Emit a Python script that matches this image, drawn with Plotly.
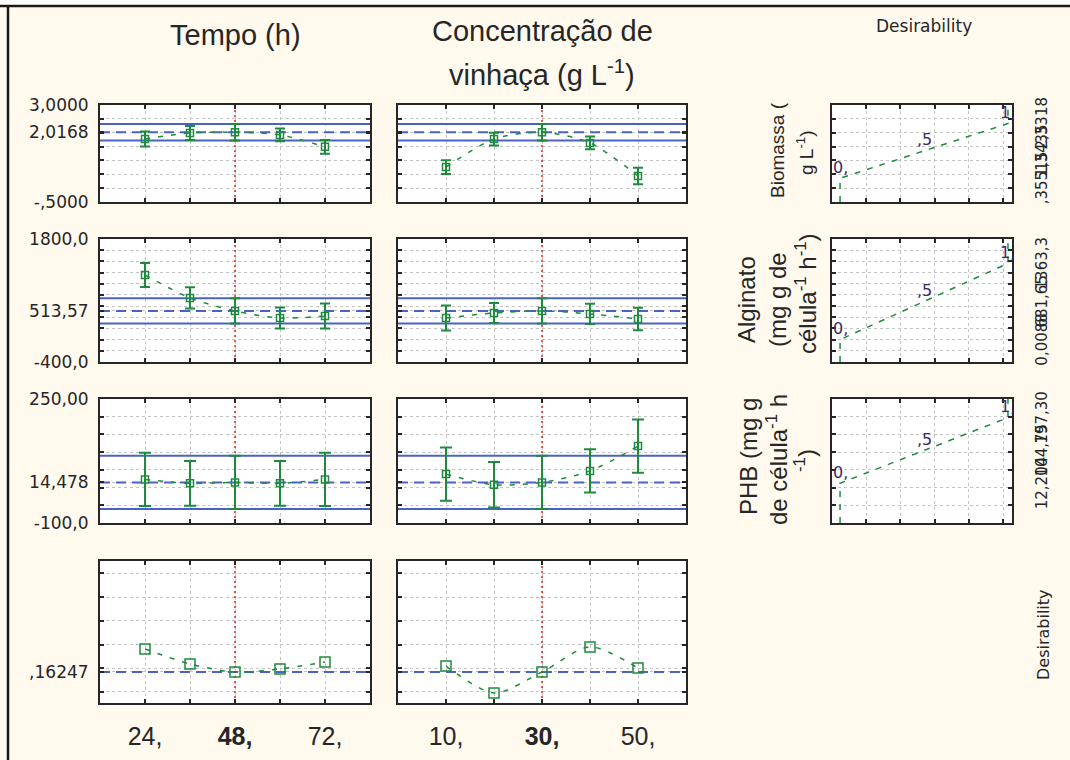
import numpy as np
import plotly.graph_objects as go

# ---------------- factor levels ----------------
tempo_levels = [24, 36, 48, 60, 72]
vinhaca_levels = [10, 20, 30, 40, 50]
tempo_atual = 48
vinhaca_atual = 30
tempo_ticktext = ["24,", "", "<b>48,</b>", "", "72,"]
vinhaca_ticktext = ["10,", "", "<b>30,</b>", "", "50,"]

# ---------------- responses ----------------
# Biomassa (g L-1)
biomassa_tempo = [1.77, 1.99, 2.0168, 1.92, 1.49]
biomassa_tempo_ic = [0.27, 0.25, 0.30, 0.23, 0.25]
biomassa_vinhaca = [0.76, 1.77, 2.0168, 1.63, 0.44]
biomassa_vinhaca_ic = [0.25, 0.23, 0.30, 0.23, 0.30]
biomassa_pred = 2.0168
biomassa_ic = 0.30

# Alginato (mg g de célula-1 h-1)
alginato_tempo = [1156, 745, 513.57, 387, 422]
alginato_tempo_ic = [215, 190, 225, 190, 225]
alginato_vinhaca = [387, 477, 513.57, 460, 370]
alginato_vinhaca_ic = [225, 180, 225, 180, 200]
alginato_pred = 513.57
alginato_ic = 225

# PHB (mg g de célula-1 h-1)
phb_tempo = [23, 12, 14.478, 12, 23]
phb_tempo_ic = [75, 63, 75, 63, 75]
phb_vinhaca = [38, 8, 14.478, 47, 117]
phb_vinhaca_ic = [75, 64, 75, 61, 75]
phb_pred = 14.478
phb_ic = 75

# overall desirability
desej_tempo = [0.1819, 0.1692, 0.16247, 0.1650, 0.1709]
desej_vinhaca = [0.1675, 0.1448, 0.16247, 0.1836, 0.1658]
desej_global = 0.16247

# desirability functions: response limits (low, high) and their labels
biomassa_limites = [0.35515, 2.3318]
alginato_limites = [0.0088, 1363.3]
phb_limites = [12.204, 197.30]
biomassa_limites_txt = [",35515", "1,3435", "2,3318"]
alginato_limites_txt = ["0,0088", "681,65", "1363,3"]
phb_limites_txt = ["12,204", "104,75", "197,30"]
desej_niveis = [0, 0.5, 1]
desej_niveis_txt = ["0,", ",5", "1,"]

# axis scales and labels
biomassa_range = [-0.5, 3.0]
alginato_range = [-400, 1800]
phb_range = [-100, 250]
desej_range = [0.1363, 0.2561]
biomassa_tickvals = [-0.5, 2.0168, 3.0]
biomassa_ticktext = ["-,5000", "2,0168", "3,0000"]
alginato_tickvals = [-400, 513.57, 1800]
alginato_ticktext = ["-400,0", "513,57", "1800,0"]
phb_tickvals = [-100, 14.478, 250]
phb_ticktext = ["-100,0", "14,478", "250,00"]
desej_tickvals = [0.16247]
desej_ticktext = [",16247"]

# ---------------- layout geometry ----------------
W, H = 1070, 760
col_px = {1: (100, 370), 2: (398, 686), 3: (832, 1012)}
row_px = {1: (105, 202), 2: (239, 362), 3: (399, 523), 4: (561, 703)}

GREEN = "#1e8a3e"
BLUE = "#4a63c3"
RED = "#e02424"
INK = "#262626"
CREAM = "#fff9ee"


def dom_x(c):
    a, b = col_px[c]
    return [a / W, b / W]


def dom_y(r):
    a, b = row_px[r]
    return [1 - b / H, 1 - a / H]


eixo_base = dict(showline=True, linecolor=INK, linewidth=2, mirror="ticks",
                 ticks="inside", ticklen=4, tickwidth=1.5, tickcolor=INK,
                 showgrid=True, gridcolor="#c4c4c4", gridwidth=1, griddash="dot",
                 zeroline=False, fixedrange=True, automargin=False)

respostas = [
    dict(rng=biomassa_range, grid=np.arange(0, 2.6, 0.5), tv=biomassa_tickvals, tt=biomassa_ticktext,
         series=[(biomassa_tempo, biomassa_tempo_ic), (biomassa_vinhaca, biomassa_vinhaca_ic)],
         pred=biomassa_pred, ic=biomassa_ic, lim=biomassa_limites, lim_txt=biomassa_limites_txt, cap=5),
    dict(rng=alginato_range, grid=np.arange(-200, 1601, 200), tv=alginato_tickvals, tt=alginato_ticktext,
         series=[(alginato_tempo, alginato_tempo_ic), (alginato_vinhaca, alginato_vinhaca_ic)],
         pred=alginato_pred, ic=alginato_ic, lim=alginato_limites, lim_txt=alginato_limites_txt, cap=5),
    dict(rng=phb_range, grid=np.arange(-50, 201, 50), tv=phb_tickvals, tt=phb_ticktext,
         series=[(phb_tempo, phb_tempo_ic), (phb_vinhaca, phb_vinhaca_ic)],
         pred=phb_pred, ic=phb_ic, lim=phb_limites, lim_txt=phb_limites_txt, cap=6),
]

fatores = [
    dict(levels=tempo_levels, rng=[12, 84], atual=tempo_atual, tt=tempo_ticktext),
    dict(levels=vinhaca_levels, rng=[0, 60], atual=vinhaca_atual, tt=vinhaca_ticktext),
]

fig = go.Figure()
layout = {}
annotations = []
contador = [0]


def novo_painel(r, c, xcfg, ycfg):
    contador[0] += 1
    n = contador[0]
    sx = "" if n == 1 else str(n)
    xa = dict(eixo_base, domain=dom_x(c), anchor="y" + sx, **xcfg)
    ya = dict(eixo_base, domain=dom_y(r), anchor="x" + sx, **ycfg)
    layout["xaxis" + sx] = xa
    layout["yaxis" + sx] = ya
    return "x" + sx, "y" + sx


def eixo_y(grid, tv, tt, labels):
    vals = list(grid) + list(tv)
    txt = [""] * len(grid) + (list(tt) if labels else [""] * len(tv))
    return dict(tickvals=vals, ticktext=txt, showticklabels=labels,
                tickfont=dict(family="DejaVu Sans", size=17, color=INK),
                ticklabelstandoff=6)


def eixo_x(fat, labels):
    return dict(range=fat["rng"], tickvals=fat["levels"],
                ticktext=fat["tt"] if labels else [""] * len(fat["levels"]),
                showticklabels=labels,
                tickfont=dict(family="Liberation Sans", size=25, color=INK),
                ticklabelstandoff=10)


def linha(xr, yr, xs, ys, dash, color, width):
    fig.add_trace(go.Scatter(x=xs, y=ys, xaxis=xr, yaxis=yr, mode="lines",
                             line=dict(color=color, width=width, dash=dash),
                             showlegend=False, hoverinfo="skip"))


# ---------------- response rows ----------------
for r, resp in enumerate(respostas, start=1):
    for c, fat in enumerate(fatores, start=1):
        ycfg = dict(range=resp["rng"], **eixo_y(resp["grid"], resp["tv"], resp["tt"], c == 1))
        xr, yr = novo_painel(r, c, eixo_x(fat, False), ycfg)
        vals, ic = resp["series"][c - 1]
        # confidence band around the predicted value, current factor setting
        for yv in (resp["pred"] + resp["ic"], resp["pred"] - resp["ic"]):
            linha(xr, yr, fat["rng"], [yv, yv], "solid", BLUE, 2)
        linha(xr, yr, fat["rng"], [resp["pred"], resp["pred"]], "10px,6px", BLUE, 2)
        linha(xr, yr, [fat["atual"], fat["atual"]], resp["rng"], "2px,3px", RED, 1.5)
        fig.add_trace(go.Scatter(
            x=fat["levels"], y=vals, xaxis=xr, yaxis=yr, mode="lines+markers",
            line=dict(color=GREEN, width=1.5, dash="5px,8px", shape="spline", smoothing=0.8),
            marker=dict(symbol="square-open", size=7, color=GREEN, line=dict(width=1.5, color=GREEN)),
            error_y=dict(type="data", array=ic, visible=True, color=GREEN, thickness=2,
                         width=resp["cap"]),
            showlegend=False, hoverinfo="skip"))

    # desirability function panel
    lo, hi = resp["lim"]
    meio = (lo + hi) / 2
    xcfg = dict(range=[-0.048, 1.024], tickvals=list(np.arange(0.155, 1.0, 0.204)),
                showticklabels=False)
    ycfg = dict(range=resp["rng"], tickvals=list(resp["grid"]), showticklabels=False)
    xr, yr = novo_painel(r, 3, xcfg, ycfg)
    linha(xr, yr, [desej_niveis[0], desej_niveis[0], desej_niveis[2], desej_niveis[2]],
          [resp["rng"][0], lo, hi, resp["rng"][1]], "6px,7px", GREEN, 1.5)
    for d, txt, yv in zip(desej_niveis, desej_niveis_txt, [lo, meio, hi]):
        annotations.append(dict(x=d, y=yv, xref=xr, yref=yr, text=txt, showarrow=False,
                                yshift=11, font=dict(family="DejaVu Sans", size=16, color="#3a2a66")))
    for txt, yv in zip(resp["lim_txt"], [lo, meio, hi]):
        annotations.append(dict(x=1042 / W, y=yv, xref="paper", yref=yr, text=txt, showarrow=False,
                                textangle=-90, xanchor="center", yanchor="middle",
                                font=dict(family="DejaVu Sans", size=15, color=INK)))

# ---------------- overall desirability row ----------------
for c, fat in enumerate(fatores, start=1):
    grid = np.arange(0.14559, desej_range[1], 0.02)
    ycfg = dict(range=desej_range, **eixo_y(grid, desej_tickvals, desej_ticktext, c == 1))
    xr, yr = novo_painel(4, c, eixo_x(fat, True), ycfg)
    linha(xr, yr, fat["rng"], [desej_global, desej_global], "10px,6px", BLUE, 2)
    linha(xr, yr, [fat["atual"], fat["atual"]], desej_range, "2px,3px", RED, 1.5)
    fig.add_trace(go.Scatter(
        x=fat["levels"], y=desej_tempo if c == 1 else desej_vinhaca, xaxis=xr, yaxis=yr,
        mode="lines+markers",
        line=dict(color=GREEN, width=1.5, dash="5px,8px", shape="spline", smoothing=0.8),
        marker=dict(symbol="square-open", size=10, color=GREEN, line=dict(width=1.5, color=GREEN)),
        showlegend=False, hoverinfo="skip"))

# ---------------- titles and labels ----------------
def texto(x, y, s, size, family="Liberation Sans", angle=0, color=INK):
    annotations.append(dict(x=x / W, y=1 - y / H, xref="paper", yref="paper", text=s,
                            showarrow=False, textangle=angle, xanchor="center", yanchor="middle",
                            font=dict(family=family, size=size, color=color)))


texto(235, 35, "Tempo (h)", 29)
texto(542, 31, "Concentração de", 29)
texto(542, 73, "vinhaça (g L<sup>-1</sup>)", 29)
texto(924, 26, "Desirability", 17, family="DejaVu Sans")
texto(1043, 635, "Desirability", 16, family="DejaVu Sans", angle=-90)

texto(777, 150, "Biomassa (", 19, angle=-90)
texto(805, 153, "g L<sup>-1</sup>)", 19, angle=-90)
texto(746, 300, "Alginato", 24, angle=-90)
texto(777, 300, "(mg g de", 24, angle=-90)
texto(806, 294, "célula<sup>-1</sup> h<sup>-1</sup>)", 24, angle=-90)
texto(748, 457, "PHB (mg g", 24, angle=-90)
texto(777, 460, "de célula<sup>-1</sup> h", 24, angle=-90)
texto(805, 461, "<sup>-1</sup>)", 24, angle=-90)

# outer frame: white strip on top, then the left and top rules
shapes = [
    dict(type="rect", xref="paper", yref="paper", x0=0, x1=1, y0=1 - 5 / H, y1=1,
         fillcolor="white", line=dict(width=0), layer="above"),
    dict(type="line", xref="paper", yref="paper", x0=0, x1=1, y0=1 - 6 / H, y1=1 - 6 / H,
         line=dict(color="#1a1a1a", width=2.5), layer="above"),
    dict(type="line", xref="paper", yref="paper", x0=8 / W, x1=8 / W, y0=0, y1=1 - 6 / H,
         line=dict(color="#1a1a1a", width=2.5), layer="above"),
]

fig.update_layout(
    width=W, height=H, autosize=False,
    margin=dict(l=0, r=0, t=0, b=0, pad=0, autoexpand=False),
    paper_bgcolor=CREAM, plot_bgcolor="white",
    shapes=shapes, annotations=annotations, showlegend=False,
    **layout)

fig.write_html("out.html", config={"displayModeBar": False, "responsive": False})
